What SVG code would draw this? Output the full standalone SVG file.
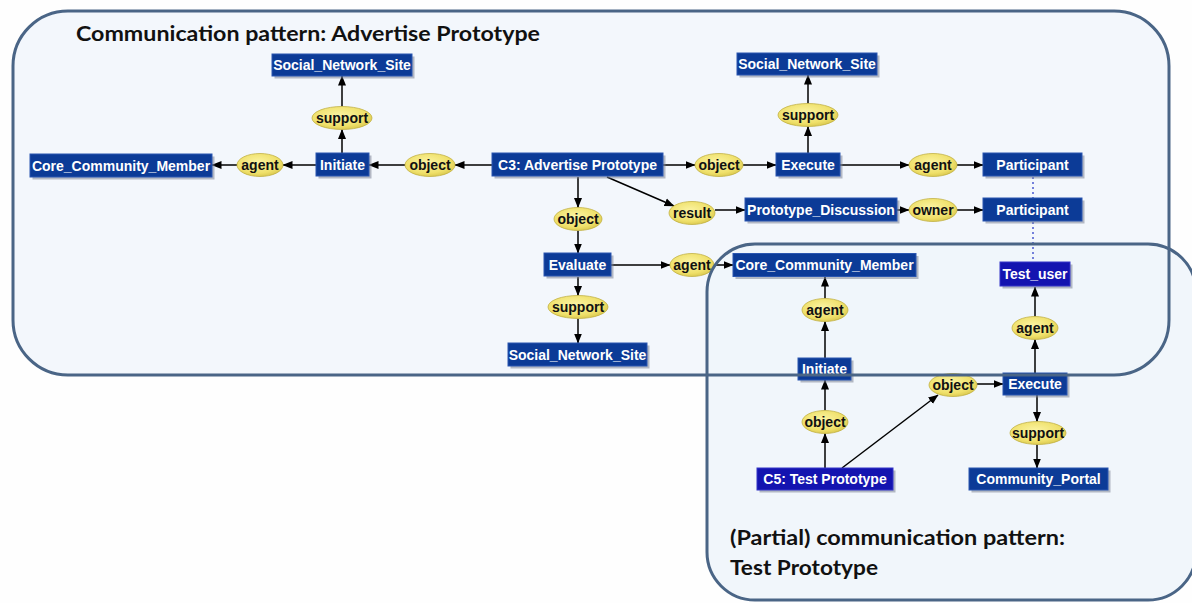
<svg xmlns="http://www.w3.org/2000/svg" width="1192" height="603" viewBox="0 0 1192 603">
<defs>
<marker id="ah" markerUnits="userSpaceOnUse" markerWidth="10" markerHeight="10" viewBox="0 0 10 10" refX="9.5" refY="5" orient="auto">
<path d="M0,1 L10,5 L0,9 Z" fill="#000"/>
</marker>
<radialGradient id="yel" cx="0.45" cy="0.4" r="0.65">
<stop offset="0" stop-color="#fbf4a4"/>
<stop offset="0.7" stop-color="#efe06a"/>
<stop offset="1" stop-color="#d6c44a"/>
</radialGradient>
<style>
.box rect.b{fill:#0c3b97;stroke:#2a56b0;stroke-width:1}
.box rect.s{fill:#7d8596;opacity:0.55}
.box.p rect.b{fill:#1414b0;stroke:#3535c8}
.box text{fill:#fff;font-family:"Liberation Sans",Arial,sans-serif;font-weight:bold;font-size:14px;text-anchor:middle}
.el ellipse{fill:url(#yel);stroke:#c2b144;stroke-width:0.8}
.el text{fill:#111;font-family:"Liberation Sans",Arial,sans-serif;font-weight:bold;font-size:14px;text-anchor:middle}
#connectors line{stroke:#000;stroke-width:1.5;marker-end:url(#ah)}
#connectors line.dot{stroke:#4a5ad0;stroke-width:1.5;stroke-dasharray:2 3;marker-end:none}
.frame{fill:none;stroke:#4a6586;stroke-width:3}
.title{font-family:"Lato","Liberation Sans",sans-serif;font-weight:bold;font-size:20px;fill:#111}
</style>
</defs>
<rect x="0" y="0" width="1192" height="603" fill="#fefefe"/>
<rect x="13" y="11" width="1156" height="364" rx="55" ry="55" fill="#f3f7fc"/>
<rect x="707" y="244" width="489" height="356" rx="48" ry="48" fill="#f0f5fb" opacity="0.9"/>

<g id="connectors">
<line x1="342" y1="153" x2="342" y2="129.5"/>
<line x1="342" y1="106.5" x2="342" y2="76"/>
<line x1="316" y1="165" x2="283" y2="165"/>
<line x1="237" y1="165" x2="212" y2="165"/>
<line x1="492" y1="165" x2="455" y2="165"/>
<line x1="405" y1="165" x2="369" y2="165"/>
<line x1="663" y1="165" x2="695" y2="165"/>
<line x1="743" y1="165" x2="776" y2="165"/>
<line x1="808" y1="153" x2="808" y2="126.5"/>
<line x1="808" y1="103.5" x2="808" y2="75"/>
<line x1="840" y1="165" x2="909" y2="165"/>
<line x1="957" y1="165" x2="983" y2="165"/>
<line x1="578" y1="177" x2="578" y2="207.5"/>
<line x1="578" y1="230.5" x2="578" y2="253"/>
<line x1="607" y1="177" x2="674" y2="206"/>
<line x1="715" y1="210" x2="745" y2="210"/>
<line x1="897" y1="210" x2="909" y2="210"/>
<line x1="957" y1="210" x2="983" y2="210"/>
<line x1="611" y1="265" x2="670" y2="265"/>
<line x1="714" y1="265" x2="733" y2="265"/>
<line x1="578" y1="277" x2="578" y2="295.5"/>
<line x1="578" y1="318.5" x2="578" y2="343"/>
<line x1="825" y1="358" x2="825" y2="321.5"/>
<line x1="825" y1="298.5" x2="825" y2="277"/>
<line x1="825" y1="468" x2="825" y2="433.5"/>
<line x1="825" y1="410.5" x2="825" y2="380"/>
<line x1="842" y1="468" x2="938" y2="395"/>
<line x1="977" y1="384" x2="1003" y2="384"/>
<line x1="1035" y1="373" x2="1035" y2="339.5"/>
<line x1="1035" y1="316.5" x2="1035" y2="287"/>
<line x1="1037" y1="395" x2="1037" y2="421.5"/>
<line x1="1037" y1="444.5" x2="1037" y2="468"/>
<line class="dot" x1="1033" y1="177" x2="1033" y2="198"/>
<line class="dot" x1="1033" y1="222" x2="1033" y2="262"/>
</g>

<g id="sns1" class="box"><rect class="s" x="274.5" y="56.5" width="140" height="22"/><rect class="b" x="272" y="54" width="140" height="22"/><text x="342" y="70">Social_Network_Site</text></g>
<g id="support1" class="el"><ellipse cx="342" cy="118" rx="30" ry="11.5"/><text x="342" y="123">support</text></g>
<g id="initiate1" class="box"><rect class="s" x="318.5" y="155.5" width="53" height="23"/><rect class="b" x="316" y="153" width="53" height="23"/><text x="342.5" y="169.5">Initiate</text></g>
<g id="agent1" class="el"><ellipse cx="260" cy="165" rx="23" ry="11.5"/><text x="260" y="170">agent</text></g>
<g id="ccm1" class="box"><rect class="s" x="32.5" y="156.5" width="182" height="23"/><rect class="b" x="30" y="154" width="182" height="23"/><text x="121" y="170.5">Core_Community_Member</text></g>
<g id="object1" class="el"><ellipse cx="430" cy="165" rx="25" ry="11.5"/><text x="430" y="170">object</text></g>
<g id="c3" class="box"><rect class="s" x="494.5" y="155.5" width="171" height="23"/><rect class="b" x="492" y="153" width="171" height="23"/><text x="577.5" y="169.5">C3: Advertise Prototype</text></g>
<g id="object2" class="el"><ellipse cx="719" cy="165" rx="24" ry="11.5"/><text x="719" y="170">object</text></g>
<g id="execute1" class="box"><rect class="s" x="778.5" y="155.5" width="64" height="23"/><rect class="b" x="776" y="153" width="64" height="23"/><text x="808" y="169.5">Execute</text></g>
<g id="support2" class="el"><ellipse cx="808" cy="115" rx="30" ry="11.5"/><text x="808" y="120">support</text></g>
<g id="sns2" class="box"><rect class="s" x="739.5" y="55.5" width="140" height="22"/><rect class="b" x="737" y="53" width="140" height="22"/><text x="807" y="69">Social_Network_Site</text></g>
<g id="agent2" class="el"><ellipse cx="933" cy="165" rx="24" ry="11.5"/><text x="933" y="170">agent</text></g>
<g id="participant1" class="box"><rect class="s" x="985.5" y="155.5" width="99" height="23"/><rect class="b" x="983" y="153" width="99" height="23"/><text x="1032.5" y="169.5">Participant</text></g>
<g id="object3" class="el"><ellipse cx="578" cy="219" rx="24" ry="11.5"/><text x="578" y="224">object</text></g>
<g id="result" class="el"><ellipse cx="692" cy="213" rx="23" ry="11.5"/><text x="692" y="218">result</text></g>
<g id="pd" class="box"><rect class="s" x="747.5" y="200.5" width="152" height="23"/><rect class="b" x="745" y="198" width="152" height="23"/><text x="821" y="214.5">Prototype_Discussion</text></g>
<g id="owner" class="el"><ellipse cx="933" cy="210" rx="24" ry="11.5"/><text x="933" y="215">owner</text></g>
<g id="participant2" class="box"><rect class="s" x="985.5" y="200.5" width="99" height="23"/><rect class="b" x="983" y="198" width="99" height="23"/><text x="1032.5" y="214.5">Participant</text></g>
<g id="evaluate" class="box"><rect class="s" x="546.5" y="255.5" width="67" height="23"/><rect class="b" x="544" y="253" width="67" height="23"/><text x="577.5" y="269.5">Evaluate</text></g>
<g id="agent3" class="el"><ellipse cx="692" cy="265" rx="22" ry="11.5"/><text x="692" y="270">agent</text></g>
<g id="ccm2" class="box"><rect class="s" x="735.5" y="256" width="183" height="23"/><rect class="b" x="733" y="253.5" width="183" height="23"/><text x="824.5" y="270">Core_Community_Member</text></g>
<g id="support3" class="el"><ellipse cx="578" cy="307" rx="30" ry="11.5"/><text x="578" y="312">support</text></g>
<g id="sns3" class="box"><rect class="s" x="510.5" y="345.5" width="139" height="23"/><rect class="b" x="508" y="343" width="139" height="23"/><text x="577.5" y="359.5">Social_Network_Site</text></g>
<g id="agent4" class="el"><ellipse cx="825" cy="310" rx="23" ry="11.5"/><text x="825" y="315">agent</text></g>
<g id="initiate2" class="box"><rect class="s" x="800.5" y="360.5" width="53" height="22"/><rect class="b" x="798" y="358" width="53" height="22"/><text x="824.5" y="374">Initiate</text></g>
<g id="object4" class="el"><ellipse cx="825" cy="422" rx="23" ry="11.5"/><text x="825" y="427">object</text></g>
<g id="c5" class="box p"><rect class="s" x="759.5" y="470.5" width="136" height="22"/><rect class="b" x="757" y="468" width="136" height="22"/><text x="825" y="484">C5: Test Prototype</text></g>
<g id="object5" class="el"><ellipse cx="953" cy="385" rx="24" ry="11.5"/><text x="953" y="390">object</text></g>
<g id="execute2" class="box"><rect class="s" x="1005.5" y="375.5" width="64" height="22"/><rect class="b" x="1003" y="373" width="64" height="22"/><text x="1035" y="389">Execute</text></g>
<g id="agent5" class="el"><ellipse cx="1035" cy="328" rx="23" ry="11.5"/><text x="1035" y="333">agent</text></g>
<g id="testuser" class="box p"><rect class="s" x="1002.5" y="264.5" width="70" height="24"/><rect class="b" x="1000" y="262" width="70" height="24"/><text x="1035" y="278.5">Test_user</text></g>
<g id="support4" class="el"><ellipse cx="1038" cy="433" rx="28" ry="11.5"/><text x="1038" y="438">support</text></g>
<g id="portal" class="box"><rect class="s" x="971.5" y="470.5" width="139" height="22"/><rect class="b" x="969" y="468" width="139" height="22"/><text x="1038.5" y="484">Community_Portal</text></g>

<rect class="frame" x="13" y="11" width="1156" height="364" rx="55" ry="55"/>
<rect class="frame" x="707" y="244" width="489" height="356" rx="48" ry="48"/>

<text class="title" x="76" y="41" textLength="464" lengthAdjust="spacingAndGlyphs">Communication pattern: Advertise Prototype</text>
<text class="title" x="730" y="545" textLength="335" lengthAdjust="spacingAndGlyphs">(Partial) communication pattern:</text>
<text class="title" x="730" y="575" textLength="148" lengthAdjust="spacingAndGlyphs">Test Prototype</text>
</svg>
